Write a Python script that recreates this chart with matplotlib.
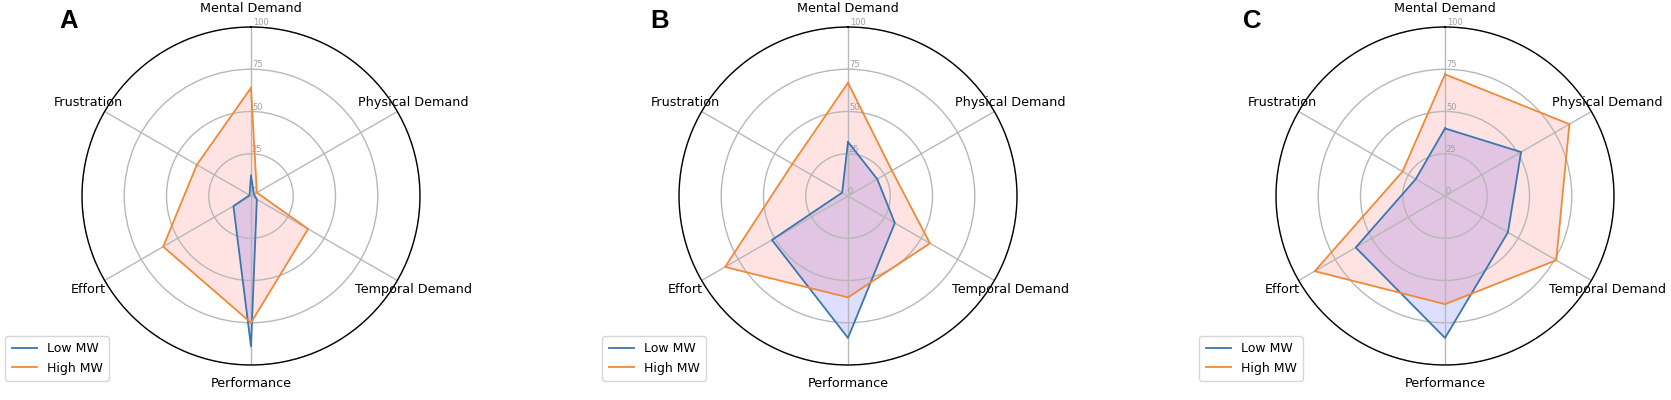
import numpy as np
import matplotlib
matplotlib.use("Agg")
import matplotlib.pyplot as plt

categories = ["Mental Demand", "Physical Demand", "Temporal Demand",
              "Performance", "Effort", "Frustration"]
panel_letters = ["A", "B", "C"]
series_names = ["Low MW", "High MW"]

low_A = [12, 2, 4, 89, 12, 1]
high_A = [64, 4, 39, 75, 60, 37]
low_B = [32, 20, 32, 84, 52, 4]
high_B = [67, 30, 56, 60, 84, 38]
low_C = [40, 52, 43, 84, 61, 20]
high_C = [72, 85, 76, 64, 89, 29]

r_ticks = [0, 25, 50, 75, 100]

panels = [(low_A, high_A), (low_B, high_B), (low_C, high_C)]

W, H = 1671, 400
fig = plt.figure(figsize=(W / 100, H / 100), dpi=100)

centers_x = [251, 848, 1445]
letter_x = [69, 660, 1252]
center_y = 204  # from bottom
rad = 169

line_cols = ["#3a76b0", "#ef8a36"]
fill_cols = [(0.0, 0.0, 1.0, 0.13), (1.0, 0.0, 0.0, 0.11)]

angles = np.linspace(0, 2 * np.pi, len(categories), endpoint=False)
ang_closed = np.concatenate([angles, angles[:1]])

for i, (cx, (low, high)) in enumerate(zip(centers_x, panels)):
    rect = [(cx - rad) / W, (center_y - rad) / H, 2 * rad / W, 2 * rad / H]
    ax = fig.add_axes(rect, projection="polar")
    ax.set_theta_offset(np.pi / 2)
    ax.set_theta_direction(-1)
    for vals, name, lc, fc in zip([low, high], series_names, line_cols, fill_cols):
        v = np.concatenate([vals, vals[:1]])
        ax.plot(ang_closed, v, color=lc, lw=1.3, label=name)
        ax.fill(ang_closed, v, color=fc, lw=0)
    ax.set_ylim(0, 100)
    ax.set_yticks(r_ticks)
    ax.set_yticklabels([str(t) for t in r_ticks], color="#a0a0a0", fontsize=6)
    ax.set_rlabel_position(0.6)
    ax.set_thetagrids(np.degrees(angles), categories, fontsize=9.2)
    ax.tick_params(axis="x", pad=3)
    ax.grid(color="#b8b8b8", lw=1.0)
    ax.spines["polar"].set_color("black")
    ax.spines["polar"].set_linewidth(1.0)
    leg = ax.legend(loc="lower left", bbox_to_anchor=(-0.227, -0.047),
                    borderaxespad=0, fontsize=9, frameon=True, fancybox=True,
                    handlelength=2.0, borderpad=0.5)
    leg.get_frame().set_edgecolor("#cccccc")
    fig.text(letter_x[i] / W, 1 - 21 / H, panel_letters[i], fontsize=18.5,
             fontweight="bold", family=["Liberation Sans", "DejaVu Sans"],
             ha="center", va="center")

fig.savefig("out.png", dpi=100)
